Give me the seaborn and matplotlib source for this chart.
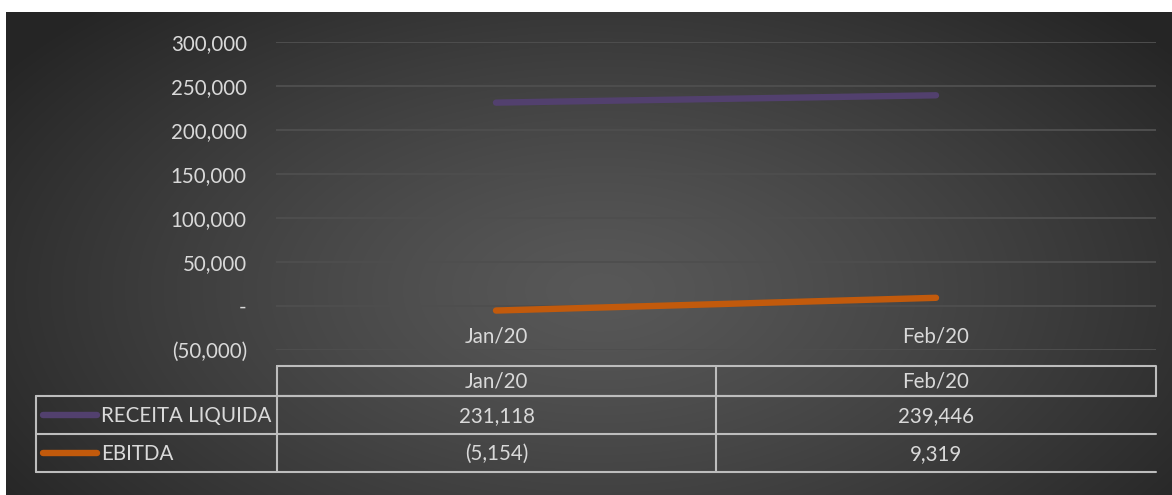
import numpy as np
import pandas as pd
import matplotlib
matplotlib.use("Agg")
import matplotlib.pyplot as plt
import matplotlib.patheffects as pe
from matplotlib.lines import Line2D
import seaborn as sns

# ---- data ----
categories = ["Jan/20", "Feb/20"]
series_names = ["RECEITA LIQUIDA", "EBITDA"]
receita_liquida = [231118, 239446]
ebitda = [-5154, 9319]
y_ticks = [-50000, 0, 50000, 100000, 150000, 200000, 250000, 300000]

series_values = [receita_liquida, ebitda]
colors = ["#52406e", "#c25a0c"]
text_color = "#d9d9d9"
grid_color = "#4e4e4e"
table_color = "#bdbdbd"
FS = 14.8

W, H, DPI = 1172, 495, 100


def fmt(v):
    if v == 0:
        return "-"
    s = f"{abs(v):,.0f}"
    return f"({s})" if v < 0 else s


sns.set_theme(style="dark")
plt.rcParams["font.family"] = ["Lato", "DejaVu Sans"]

fig = plt.figure(figsize=(W / DPI, H / DPI), dpi=DPI)
fig.patch.set_facecolor("white")

# ---- radial background ----
bg = fig.add_axes([0, 0, 1, 1], zorder=0)
yy, xx = np.mgrid[0:H, 0:W]
cx, cy = 600, 290
d = np.sqrt(((xx - cx) / (W * 0.62)) ** 2 + ((yy - cy) / (H * 0.8)) ** 2)
d = np.clip(d, 0, 1)
center_c, edge_c = 0x58 / 255, 0x25 / 255
val = center_c + (edge_c - center_c) * d ** 1.25
img = np.dstack([val, val, val])
img[:12, :, :] = 1.0
img[:, :6, :] = 1.0
bg.imshow(img, aspect="auto", extent=[0, W, H, 0], interpolation="bilinear")
bg.set_xlim(0, W)
bg.set_ylim(H, 0)
bg.axis("off")


def fx(px):
    return px / W


def fy(py):
    return 1 - py / H


# ---- line chart ----
left, right, top, bottom = 276, 1156, 42, 350
ax = fig.add_axes([fx(left), fy(bottom), fx(right - left), (bottom - top) / H], zorder=2)
ax.patch.set_alpha(0)

df = pd.DataFrame({
    "period": categories * len(series_names),
    "series": [s for s in series_names for _ in categories],
    "value": [v for vals in series_values for v in vals],
})
df["pos"] = df["period"].map({c: i for i, c in enumerate(categories)})

sns.lineplot(data=df, x="pos", y="value", hue="series", palette=colors,
             hue_order=series_names, linewidth=4.6, ax=ax, legend=False,
             sort=False)
for ln in ax.lines:
    ln.set_solid_capstyle("round")
    ln.set_path_effects([pe.SimplePatchShadow(offset=(2, -2.5), alpha=0.45,
                                              shadow_rgbFace="black"),
                         pe.Normal()])

ax.set_xlim(-0.5, len(categories) - 0.5)
ax.set_ylim(y_ticks[0], y_ticks[-1])
ax.set_yticks(y_ticks)
ax.set_yticklabels([fmt(v) for v in y_ticks])
ax.yaxis.grid(True, color=grid_color, linewidth=1.4)
ax.xaxis.grid(False)
ax.tick_params(axis="y", length=0, pad=21, labelsize=FS, labelcolor=text_color)
ax.set_xticks(range(len(categories)))
ax.set_xticklabels(categories)
ax.spines["bottom"].set_position(("data", 0))
ax.tick_params(axis="x", length=0, pad=15, labelsize=FS, labelcolor=text_color)
for s in ax.spines.values():
    s.set_visible(False)
ax.set_xlabel("")
ax.set_ylabel("")

# ---- data table ----
tab = fig.add_axes([0, 0, 1, 1], zorder=3)
tab.set_xlim(0, W)
tab.set_ylim(H, 0)
tab.axis("off")

x_leg, x_c0, x_c1, x_end = 36, 277, 716, 1156
y_h0, y_h1, y_r1, y_r2 = 366, 396, 434, 472
lw = 1.5
# header box
tab.plot([x_c0, x_end, x_end, x_c0, x_c0], [y_h0, y_h0, y_h1, y_h1, y_h0],
         color=table_color, lw=lw)
tab.plot([x_c1, x_c1], [y_h0, y_r2], color=table_color, lw=lw)
tab.plot([x_c0, x_c0], [y_h1, y_r2], color=table_color, lw=lw)
for yv in (y_h1, y_r1, y_r2):
    tab.plot([x_leg, x_end], [yv, yv], color=table_color, lw=lw)
tab.plot([x_leg, x_leg], [y_h1, y_r2], color=table_color, lw=lw)

col_centers = [(x_c0 + x_c1) / 2, (x_c1 + x_end) / 2]
for c, cxp in zip(categories, col_centers):
    tab.text(cxp, (y_h0 + y_h1) / 2 + 1, c, ha="center", va="center",
             color=text_color, fontsize=FS)
row_bounds = [(y_h1, y_r1), (y_r1, y_r2)]
for name, vals, col, (r0, r1) in zip(series_names, series_values, colors, row_bounds):
    ym = (r0 + r1) / 2
    tab.add_line(Line2D([43, 97], [ym, ym], color=col, lw=4.6,
                        solid_capstyle="round"))
    tab.text(101, ym + 1, name, ha="left", va="center", color=text_color,
             fontsize=FS)
    for v, cxp in zip(vals, col_centers):
        tab.text(cxp, ym + 1, fmt(v), ha="center", va="center",
                 color=text_color, fontsize=FS)

fig.savefig("out.png", dpi=DPI, facecolor=fig.get_facecolor())
